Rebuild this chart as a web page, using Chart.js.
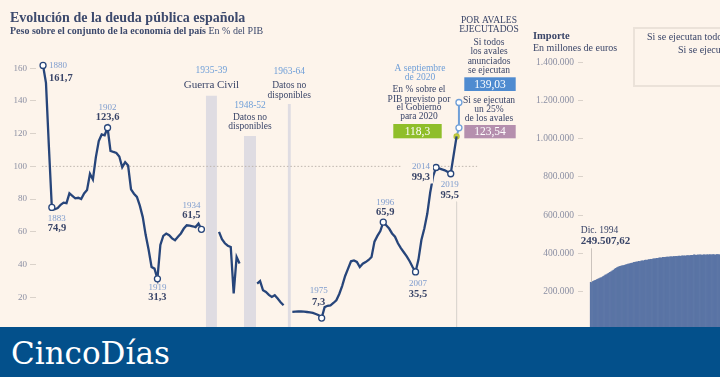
<!DOCTYPE html>
<html lang="es">
<head>
<meta charset="utf-8">
<script src="https://cdn.jsdelivr.net/npm/chart.js@4.4.0/dist/chart.umd.min.js"></script>
<style>
  html, body { margin:0; padding:0; }
  body { width:720px; height:377px; overflow:hidden; position:relative; background:#fdf4eb;
         font-family:"Liberation Serif", serif; color:#3a4568; }
  canvas { position:absolute; top:0; }
  #c-debt { left:0; }
  #c-amount { left:520px; }
  .t { position:absolute; white-space:nowrap; line-height:1; }
  #title { left:10px; top:11px; font-size:14px; font-weight:bold; color:#3d4a6d; }
  #subtitle { left:10px; top:26px; font-size:10px; font-weight:bold; color:#3d4a6d; }
  #subtitle span { font-weight:normal; }
  #imp1 { left:533px; top:31px; font-size:10.5px; font-weight:bold; }
  #imp2 { left:533px; top:42.5px; font-size:10px; }
  #legend { position:absolute; left:633px; top:27px; width:140px; height:56px; border:2px solid #ebe2d9; }
  #leg1 { left:647px; top:32px; font-size:10px; }
  #leg2 { left:678px; top:45px; font-size:10px; }
  #footer { position:absolute; left:0; top:327px; width:720px; height:50px; background:#03508b; }
  #footer span { position:absolute; left:11px; top:11px; font-size:31px; line-height:1;
                 color:#fff; font-family:"DejaVu Serif", serif; }
</style>
</head>
<body>
<canvas id="c-debt" width="520" height="340"></canvas>
<canvas id="c-amount" width="202" height="340"></canvas>
<div class="t" id="title">Evolución de la deuda pública española</div>
<div class="t" id="subtitle">Peso sobre el conjunto de la economía del país <span>En % del PIB</span></div>
<div class="t" id="imp1">Importe</div>
<div class="t" id="imp2">En millones de euros</div>
<div id="legend"></div>
<div class="t" id="leg1">Si se ejecutan todos los avales</div>
<div class="t" id="leg2">Si se ejecutan un 25% de los avales</div>
<div id="footer"><span>CincoDías</span></div>
<script>
// deuda pública / PIB, 1880-2019 (null = sin datos)
const years = [];
for (let y = 1880; y <= 2019; y++) years.push(y);
const debt = [
  161.7, 151, 112, 74.9, 73.8, 74.5, 76.5, 77.8, 77.5, 83.5,   // 1880
  82.0, 80.5, 80.8, 80.0, 83.5, 85.5, 95.5, 92.0, 105.5, 115.5, // 1890
  119.5, 119.0, 123.6, 109.5, 108.8, 108.2, 106.0, 99.5, 102.6, 100.5, // 1900
  86.0, 83.3, 81.3, 76.0, 69.0, 58.0, 49.0, 38.5, 37.5, 31.3, // 1910
  52.0, 57.5, 58.9, 57.9, 56.0, 54.8, 57.0, 59.0, 62.0, 64.0, // 1920
  63.8, 63.4, 62.9, 65.0, 61.5, null, null, null, null, null, // 1930
  60.0, 55.5, 53.0, 51.5, 50.7, 22.3, 44.6, 40.6, null, null, // 1940
  null, null, null, 28.4, 29.9, 24.3, 23.3, 21.5, 20.2, 21.2, // 1950
  19.2, 17.0, 15.1, null, null, 11.1, 11.2, 11.3, 11.3, 11.2, // 1960
  11.0, 10.8, 10.5, 9.8, 9.1, 7.3, 14.0, 14.8, 15.1, 16.5,    // 1970
  18.2, 22.0, 27.0, 33.0, 37.5, 42.0, 42.5, 41.6, 38.5, 40.5, // 1980
  41.5, 42.8, 44.6, 54.0, 57.5, 60.5, 65.9, 64.0, 62.0, 59.0, // 1990
  57.0, 53.0, 50.0, 47.5, 45.0, 42.0, 38.5, 35.5, 43.0, 55.0, // 2000
  62.0, 71.0, 84.0, 94.0, 99.3, 98.8, 98.2, 97.6, 96.6, 95.5  // 2010
];
const labelledYears = [1880, 1883, 1902, 1919, 1934, 1975, 1996, 2007, 2014, 2019];
const debtTicks = [20, 40, 60, 80, 100, 120, 140, 160];

// previsión y escenarios de avales
const forecastX = 2021, forecast2020 = 118.3;
const avalesX = 2021.8, avales25 = 123.54, avalesAll = 139.03;

// periodos sin datos
const gapStart = [1935.5, 1948.5, 1963.4];
const gapEnd   = [1939.3, 1952.6, 1964.5];
const gapTop   = [143.2, 118.6, 138.1];

// importe de la deuda, millones de euros, mensual desde dic. 1994
const amount = [
  249507.62, 251900, 254300, 258100, 259800, 263500, 266200, 268900, 272400, 274100, 278600, 281300, 286900,
  289500, 293800, 297200, 301600, 304900, 309300, 313100, 318800, 322900, 326700, 329400, 332200,
  333800, 335100, 336700, 337900, 340800, 342100, 344600, 345200, 347900, 349300, 350100, 353800,
  354200, 355900, 356300, 358800, 358100, 360700, 361900, 361200, 364500, 365100, 364300, 367900,
  368200, 369600, 368900, 371800, 372400, 372900, 374600, 374100, 376800, 377300, 376500, 379900,
  380400, 379600, 381000, 381700, 380900, 382600, 383100, 382200, 384400, 383800, 385100, 384300,
  385900, 386400, 385200, 387500, 386800, 387900, 386600, 388700, 389200, 387900, 389800, 390400,
  390100, 392300, 391600, 390400, 392800, 391900, 393100, 392200, 391000, 393600, 392700, 391800,
  393900, 392400, 394200, 393100, 392500, 394600, 393300, 392100, 394800, 393700, 392900, 394300
];
const amountTicks = [200000, 400000, 600000, 800000, 1000000, 1200000, 1400000];

const cream = '#fdf4eb', navy = '#27457a', sky = '#6f9fd8', dark = '#3a4568', yearBlue = '#7f9dce';
const serif = "'Liberation Serif', serif";
const fmt = (v, d) => v.toFixed(d).replace('.', ',');
const thousands = s => s.replace(/\B(?=(\d{3})+(?!\d))/g, '.');

// rotulos de los puntos destacados
const pointNotes = {
  1880: { align:'left',   dx:6,   dy:[0, 12.5] },
  1883: { align:'left',   dx:-4,  dy:[11, 20.5] },
  1902: { align:'center', dx:0,   dy:[-20.5, -10] },
  1919: { align:'center', dx:0,   dy:[8.5, 18.5] },
  1934: { align:'center', dx:-10, dy:[-23.7, -13.7] },
  1975: { align:'center', dx:-3,  dy:[-27, -15.3] },
  1996: { align:'center', dx:2,   dy:[-20, -10] },
  2007: { align:'center', dx:2.5, dy:[11.5, 22] },
  2014: { align:'right',  dx:-6,  dy:[-1, 10], bg:true },
  2019: { align:'center', dx:-1,  dy:[11, 22] }
};
const gapNotes = [
  [['1935-39', 'y', -24.7], ['Guerra Civil', 'big', -10.7]],
  [['1948-52', 'y', -30], ['Datos no', 't', -18.7], ['disponibles', 't', -9.3]],
  [['1963-64', 'y', -32.3], ['Datos no', 't', -18.3], ['disponibles', 't', -9]]
];
const sideText = [
  ['A septiembre', 420, 68.3, 'y'], ['de 2020', 420, 77.5, 'y'],
  ['En % sobre el', 419, 89.3, 't'], ['PIB previsto por', 419, 99, 't'],
  ['el Gobierno', 419, 107.8, 't'], ['para 2020', 419, 116.7, 't'],
  ['POR AVALES', 489, 20.7, 't'], ['EJECUTADOS', 489, 29.5, 't'],
  ['Si todos', 489, 42.7, 't'], ['los avales', 489, 51.7, 't'],
  ['anunciados', 489, 61, 't'], ['se ejecutan', 489, 70, 't'],
  ['Si se ejecutan', 489, 100, 't'], ['un 25%', 489, 109.3, 't'], ['de los avales', 489, 118.3, 't']
];
const boxes = [
  [fmt(forecast2020, 1), 393.3, 124, 48.4, 14.3, '#8fbe2a'],
  [fmt(avalesAll, 2), 464.3, 77.3, 51.4, 13.7, '#4f8bd0'],
  [fmt(avales25, 2), 464.3, 125, 51.4, 13.3, '#b58fae']
];
const fonts = {
  y: ['9.5px ' + serif, sky],
  t: ['9.5px ' + serif, dark],
  big: ['11px ' + serif, dark]
};

const notesPlugin = {
  id: 'debtNotes',
  afterDatasetsDraw(chart) {
    const { ctx, scales: { x, y } } = chart;
    ctx.save();
    ctx.textBaseline = 'middle';
    // gaps
    gapNotes.forEach((lines, i) => {
      const cx = x.getPixelForValue((gapStart[i] + gapEnd[i]) / 2);
      const top = y.getPixelForValue(gapTop[i]);
      ctx.textAlign = 'center';
      lines.forEach(([txt, f, dy]) => {
        ctx.font = fonts[f][0]; ctx.fillStyle = fonts[f][1];
        ctx.fillText(txt, cx, top + dy);
      });
    });
    // point labels
    labelledYears.forEach(yr => {
      const n = pointNotes[yr];
      const v = debt[years.indexOf(yr)];
      const px = x.getPixelForValue(yr) + n.dx, py = y.getPixelForValue(v);
      ctx.textAlign = n.align;
      if (n.bg) {
        ctx.fillStyle = cream;
        const w = 26;
        const left = n.align === 'right' ? px - w : (n.align === 'left' ? px : px - w / 2);
        ctx.fillRect(left - 3, py + n.dy[0] - 6, w + 6, n.dy[1] - n.dy[0] + 12);
      }
      ctx.font = '9px ' + serif; ctx.fillStyle = yearBlue;
      ctx.fillText(String(yr), px, py + n.dy[0]);
      ctx.font = 'bold 10.5px ' + serif; ctx.fillStyle = dark;
      ctx.fillText(fmt(v, 1), px, py + n.dy[1]);
    });
    // side texts
    ctx.textAlign = 'center';
    sideText.forEach(([txt, tx, ty, f]) => {
      ctx.font = fonts[f][0]; ctx.fillStyle = f === 'y' ? sky : dark;
      ctx.fillText(txt, tx, ty);
    });
    boxes.forEach(([txt, bx, by, bw, bh, col]) => {
      ctx.fillStyle = col; ctx.fillRect(bx, by, bw, bh);
      ctx.font = '11.5px ' + serif; ctx.fillStyle = '#ffffff';
      ctx.fillText(txt, bx + bw / 2, by + bh / 2 + 0.5);
    });
    ctx.restore();
  }
};

const gapSets = gapStart.map((s, i) => ({
  data: [{ x: s, y: gapTop[i] }, { x: gapEnd[i], y: gapTop[i] }],
  borderWidth: 0, pointRadius: 0, fill: 'origin', backgroundColor: '#dfdce2', order: 9
}));

new Chart(document.getElementById('c-debt'), {
  type: 'line',
  data: {
    datasets: [
      ...gapSets,
      { data: [{ x: 1879.6, y: 100 }, { x: 2028, y: 100 }], borderColor: '#bdb5ad', borderWidth: 1,
        borderDash: [1.5, 2], pointRadius: 0, order: 8 },
      { data: [{ x: forecastX, y: 78.4 }, { x: forecastX, y: 0 }], borderColor: '#ddd7d1', borderWidth: 1,
        pointRadius: 0, order: 8 },
      { data: [{ x: forecastX, y: forecast2020 }, { x: avalesX, y: avales25 }, { x: avalesX, y: avalesAll }],
        borderColor: sky, borderWidth: 2, pointRadius: [2.5, 3, 3], pointBorderWidth: 1.3,
        pointBorderColor: ['#b9c43a', sky, sky], pointBackgroundColor: ['#c9cf3a', '#fff', '#fff'], order: 2 },
      { data: years.map((yr, i) => ({ x: yr, y: debt[i] })).concat({ x: forecastX, y: forecast2020 }),
        borderColor: navy, borderWidth: 2.3, spanGaps: false, tension: 0,
        pointRadius: c => labelledYears.includes(c.raw.x) ? 3 : 0,
        pointBorderColor: navy, pointBackgroundColor: '#fff', pointBorderWidth: 1.3, order: 1 }
    ]
  },
  options: {
    responsive: false, animation: false,
    layout: { padding: { top: 60, bottom: 10, left: 0, right: 20 } },
    plugins: { legend: { display: false }, tooltip: { enabled: false } },
    scales: {
      x: { type: 'linear', min: 1877.6, max: 2035.8, display: false },
      y: {
        min: 0, max: 165,
        afterFit: s => { s.width = 36; },
        afterBuildTicks: s => { s.ticks = debtTicks.map(v => ({ value: v })); },
        ticks: { font: { family: serif, size: 9 }, color: '#8b8fa3', padding: 3 },
        grid: { drawOnChartArea: false, tickLength: 6, color: '#dad2ca' },
        border: { display: false }
      }
    }
  },
  plugins: [notesPlugin]
});

// grafico de importe
const amountPlugin = {
  id: 'amountNote',
  afterDatasetsDraw(chart) {
    const { ctx, scales: { x, y } } = chart;
    const px = x.getPixelForValue(0), py = y.getPixelForValue(amount[0]);
    ctx.save();
    ctx.strokeStyle = '#cbc3bd'; ctx.lineWidth = 1;
    ctx.beginPath(); ctx.moveTo(Math.round(px) + 0.5, py); ctx.lineTo(Math.round(px) + 0.5, py - 34); ctx.stroke();
    ctx.textBaseline = 'middle'; ctx.textAlign = 'left'; ctx.fillStyle = dark;
    ctx.font = '9.5px ' + serif;
    ctx.fillText('Dic. 1994', px - 10, py - 52);
    ctx.font = 'bold 11px ' + serif;
    ctx.fillText(thousands(amount[0].toFixed(2).replace('.', ',')), px - 10, py - 41);
    ctx.restore();
  }
};

new Chart(document.getElementById('c-amount'), {
  type: 'bar',
  data: {
    datasets: [{
      data: amount.map((v, i) => ({ x: i, y: v })),
      backgroundColor: '#5a74a5', barPercentage: 1, categoryPercentage: 1
    }]
  },
  options: {
    responsive: false, animation: false,
    layout: { padding: { top: 43, bottom: 10, left: 0, right: 0 } },
    plugins: { legend: { display: false }, tooltip: { enabled: false } },
    scales: {
      x: { type: 'linear', min: -6.5, max: 109.3, offset: false, display: false },
      y: {
        min: 0, max: 1500000,
        afterFit: s => { s.width = 63; },
        afterBuildTicks: s => { s.ticks = amountTicks.map(v => ({ value: v })); },
        ticks: { font: { family: serif, size: 9.5 }, color: '#8b8fa3', padding: 4,
                 callback: v => thousands(String(v)) },
        grid: { drawOnChartArea: false, tickLength: 5, color: '#dad2ca' },
        border: { display: false }
      }
    }
  },
  plugins: [amountPlugin]
});
</script>
</body>
</html>
